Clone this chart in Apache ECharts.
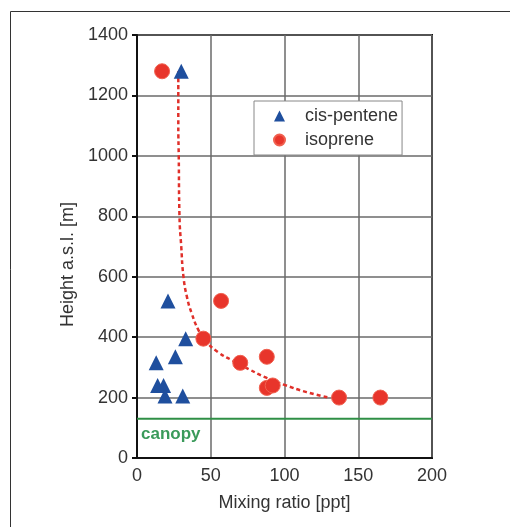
<!DOCTYPE html>
<html>
<head>
<meta charset="utf-8">
<script src="https://cdn.jsdelivr.net/npm/echarts@6/dist/echarts.min.js"></script>
<style>html,body{margin:0;padding:0;background:#fff}#c{width:510px;height:527px}</style>
</head>
<body>
<div id="c"></div>
<script>
// Data
var cisPentene = [[30,1280],[21,520],[33,395],[26,335],[13,315],[14,240],[18,240],[19,205],[31,205]];
var isoprene = [[17,1280],[57,520],[45,395],[70,315],[88,335],[88,232],[92,240],[137,200],[165,200]];
var fitCurve = [[28,1280],[28,1100],[28.3,1000],[28.8,800],[30,700],[31.5,600],[34,530],[37,480],[41.5,425],[46,390],[55,350],[65,322],[75,296],[88,265],[100,242],[115,218],[130,200]];
var canopyHeight = 130;
var xTicks = [0,50,100,150,200];
var yTicks = [0,200,400,600,800,1000,1200,1400];

var FONT = 'Liberation Sans, Arial, Helvetica, sans-serif';
var chart = echarts.init(document.getElementById('c'), null, {renderer:'canvas'});
chart.setOption({
  backgroundColor:'#ffffff',
  animation:false,
  textStyle:{fontFamily:FONT},
  grid:{left:137,right:78,top:35,bottom:69,show:true,borderColor:'#111',borderWidth:2,backgroundColor:'transparent'},
  xAxis:{
    type:'value',min:xTicks[0],max:xTicks[xTicks.length-1],interval:50,
    name:'Mixing ratio [ppt]',nameLocation:'middle',nameGap:36,
    nameTextStyle:{fontSize:18,color:'#333',fontFamily:FONT},
    axisLine:{show:true,lineStyle:{color:'#111',width:2}},
    axisTick:{show:false},
    axisLabel:{fontSize:18,color:'#333',margin:9,fontFamily:FONT,formatter:function(v){return String(v);}},
    splitLine:{show:true,lineStyle:{color:'#6a6a6a',width:1.5}}
  },
  yAxis:{
    type:'value',min:yTicks[0],max:yTicks[yTicks.length-1],interval:200,
    name:'Height a.s.l. [m]',nameLocation:'middle',nameGap:34,
    nameTextStyle:{fontSize:18,color:'#333',fontFamily:FONT,padding:[0,36,0,0]},
    axisLine:{show:true,lineStyle:{color:'#111',width:2}},
    axisTick:{show:true,inside:false,length:5,lineStyle:{color:'#111',width:2}},
    axisLabel:{fontSize:18,color:'#333',margin:9,fontFamily:FONT,formatter:function(v){return String(v);}},
    splitLine:{show:true,lineStyle:{color:'#6a6a6a',width:1.5}}
  },
  legend:{
    orient:'vertical',left:254,top:101,
    padding:[6,4,6,19],itemGap:6,itemWidth:11,itemHeight:11,
    backgroundColor:'#fff',borderColor:'#888',borderWidth:1,
    textStyle:{fontSize:18,color:'#333',fontFamily:FONT,padding:[0,0,0,15]},
    itemStyle:{opacity:1},
    data:[{name:'cis-pentene',icon:'triangle'},{name:'isoprene',icon:'circle'}]
  },
  series:[
    {
      name:'canopy',type:'line',data:[[0,canopyHeight],[200,canopyHeight]],
      symbol:'none',lineStyle:{color:'#2f8f46',width:2},z:1,silent:true
    },
    {
      name:'fit',type:'line',data:fitCurve,smooth:0.5,symbol:'none',
      lineStyle:{color:'#e0302a',width:2.5,type:[4,3]},z:2
    },
    {
      name:'cis-pentene',type:'scatter',data:cisPentene,symbol:'triangle',symbolSize:15,
      itemStyle:{color:'#1f4f9e',opacity:1},z:4
    },
    {
      name:'isoprene',type:'scatter',data:isoprene,symbol:'circle',symbolSize:15,
      itemStyle:{color:'#e8352b',borderColor:'#f0604f',borderWidth:1,opacity:1},z:3
    }
  ],
  graphic:[
    {type:'rect',shape:{x:10.5,y:11.5,width:700,height:700},style:{fill:'none',stroke:'#333',lineWidth:1},z:-10},
    {type:'text',left:141,top:426,style:{text:'canopy',fontSize:17,fontWeight:'bold',fill:'#3a9a5a',fontFamily:FONT},z:10}
  ]
});
</script>
</body>
</html>
